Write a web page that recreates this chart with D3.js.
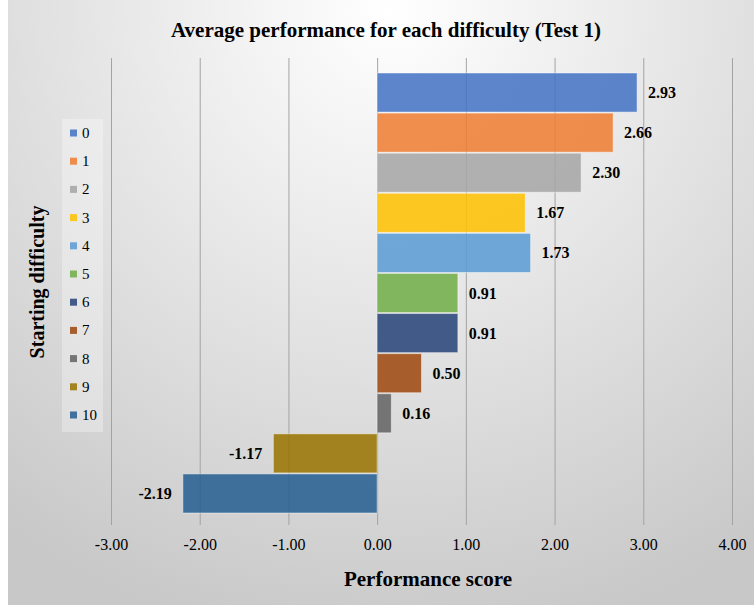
<!DOCTYPE html>
<html>
<head>
<meta charset="utf-8">
<script src="https://cdn.jsdelivr.net/npm/d3@7/dist/d3.min.js"></script>
<style>
  html, body { margin: 0; padding: 0; background: #ffffff; }
  svg { display: block; }
  text { font-family: "Liberation Serif", "Times New Roman", serif; fill: #000; }
</style>
</head>
<body>
<svg id="chart" width="754" height="605"></svg>
<script>
// Starting difficulty levels and their average performance score
const categories = ["0", "1", "2", "3", "4", "5", "6", "7", "8", "9", "10"];
const scores = [2.93, 2.66, 2.30, 1.67, 1.73, 0.91, 0.91, 0.50, 0.16, -1.17, -2.19];
const barColors = ["#4472C4", "#ED7D31", "#A5A5A5", "#FFC000", "#5B9BD5", "#70AD47",
                   "#264478", "#9E480E", "#636363", "#997300", "#255E91"];
const xTicks = [-3, -2, -1, 0, 1, 2, 3, 4];

const svg = d3.select("#chart");
const W = 754, H = 605;

// Soft radial backdrop, light at the top centre fading to grey
const defs = svg.append("defs");
const grad = defs.append("radialGradient")
  .attr("id", "bg")
  .attr("gradientUnits", "userSpaceOnUse")
  .attr("cx", 390).attr("cy", 10).attr("r", 640);
grad.append("stop").attr("offset", 0).attr("stop-color", "#ffffff");
grad.append("stop").attr("offset", 0.35).attr("stop-color", "#ececec");
grad.append("stop").attr("offset", 0.75).attr("stop-color", "#d6d6d6");
grad.append("stop").attr("offset", 1).attr("stop-color", "#c8c8c8");

svg.append("rect").attr("x", 8).attr("y", 0).attr("width", W - 8).attr("height", H)
  .attr("fill", "url(#bg)");

const plotTop = 58, plotBottom = 525;

const x = d3.scaleLinear().domain([-3, 4]).range([111, 732]);
const y = d3.scaleBand().domain(categories).range([73, 513]).paddingInner(0.025);

// Two-decimal labels with a plain hyphen for negatives
const fmt = v => v.toFixed(2);

// Vertical gridlines with tick labels beneath
const xAxis = d3.axisBottom(x)
  .tickValues(xTicks)
  .tickSize(plotBottom - plotTop)
  .tickFormat(fmt);

const gx = svg.append("g")
  .attr("transform", `translate(0,${plotTop})`)
  .call(xAxis);
gx.select(".domain").remove();
gx.selectAll(".tick line").attr("stroke", "#a3a3a3").attr("stroke-width", 1);
gx.selectAll(".tick text")
  .attr("y", plotBottom - plotTop + 25)
  .attr("dy", 0)
  .attr("font-size", 16)
  .style("font-family", "'Liberation Serif', 'Times New Roman', serif")
  .attr("fill", "#000");

// Bars
svg.append("g").selectAll("rect")
  .data(categories)
  .join("rect")
  .attr("x", (d, i) => x(Math.min(0, scores[i])))
  .attr("y", d => y(d))
  .attr("width", (d, i) => Math.abs(x(scores[i]) - x(0)))
  .attr("height", y.bandwidth())
  .attr("fill", (d, i) => barColors[i])
  .attr("fill-opacity", 0.86)
  .attr("stroke", "#ffffff")
  .attr("stroke-opacity", 0.45)
  .attr("stroke-width", 1);

// Value labels at the outer end of each bar
svg.append("g").selectAll("text")
  .data(categories)
  .join("text")
  .attr("x", (d, i) => scores[i] >= 0 ? x(scores[i]) + 11 : x(scores[i]) - 11)
  .attr("y", d => y(d) + y.bandwidth() / 2 + 5.5)
  .attr("text-anchor", (d, i) => scores[i] >= 0 ? "start" : "end")
  .attr("font-size", 16)
  .attr("font-weight", "bold")
  .text((d, i) => fmt(scores[i]));

// Legend
const legend = svg.append("g");
legend.append("rect")
  .attr("x", 62).attr("y", 119).attr("width", 41).attr("height", 313)
  .attr("fill", "#ffffff").attr("fill-opacity", 0.3);
const items = legend.selectAll("g.item")
  .data(categories)
  .join("g")
  .attr("class", "item")
  .attr("transform", (d, i) => `translate(0,${133 + i * 28.2})`);
items.append("rect")
  .attr("x", 70).attr("y", -3.5).attr("width", 7).attr("height", 7)
  .attr("fill", (d, i) => barColors[i]).attr("fill-opacity", 0.86);
items.append("text")
  .attr("x", 82).attr("y", 5)
  .attr("font-size", 15)
  .text(d => d);

// Titles
svg.append("text")
  .attr("x", 386).attr("y", 37)
  .attr("text-anchor", "middle")
  .attr("font-size", 21)
  .attr("font-weight", "bold")
  .text("Average performance for each difficulty (Test 1)");

svg.append("text")
  .attr("x", 428).attr("y", 586)
  .attr("text-anchor", "middle")
  .attr("font-size", 21)
  .attr("font-weight", "bold")
  .text("Performance score");

svg.append("text")
  .attr("transform", "translate(44,282) rotate(-90)")
  .attr("text-anchor", "middle")
  .attr("font-size", 20)
  .attr("font-weight", "bold")
  .text("Starting difficulty");
</script>
</body>
</html>
